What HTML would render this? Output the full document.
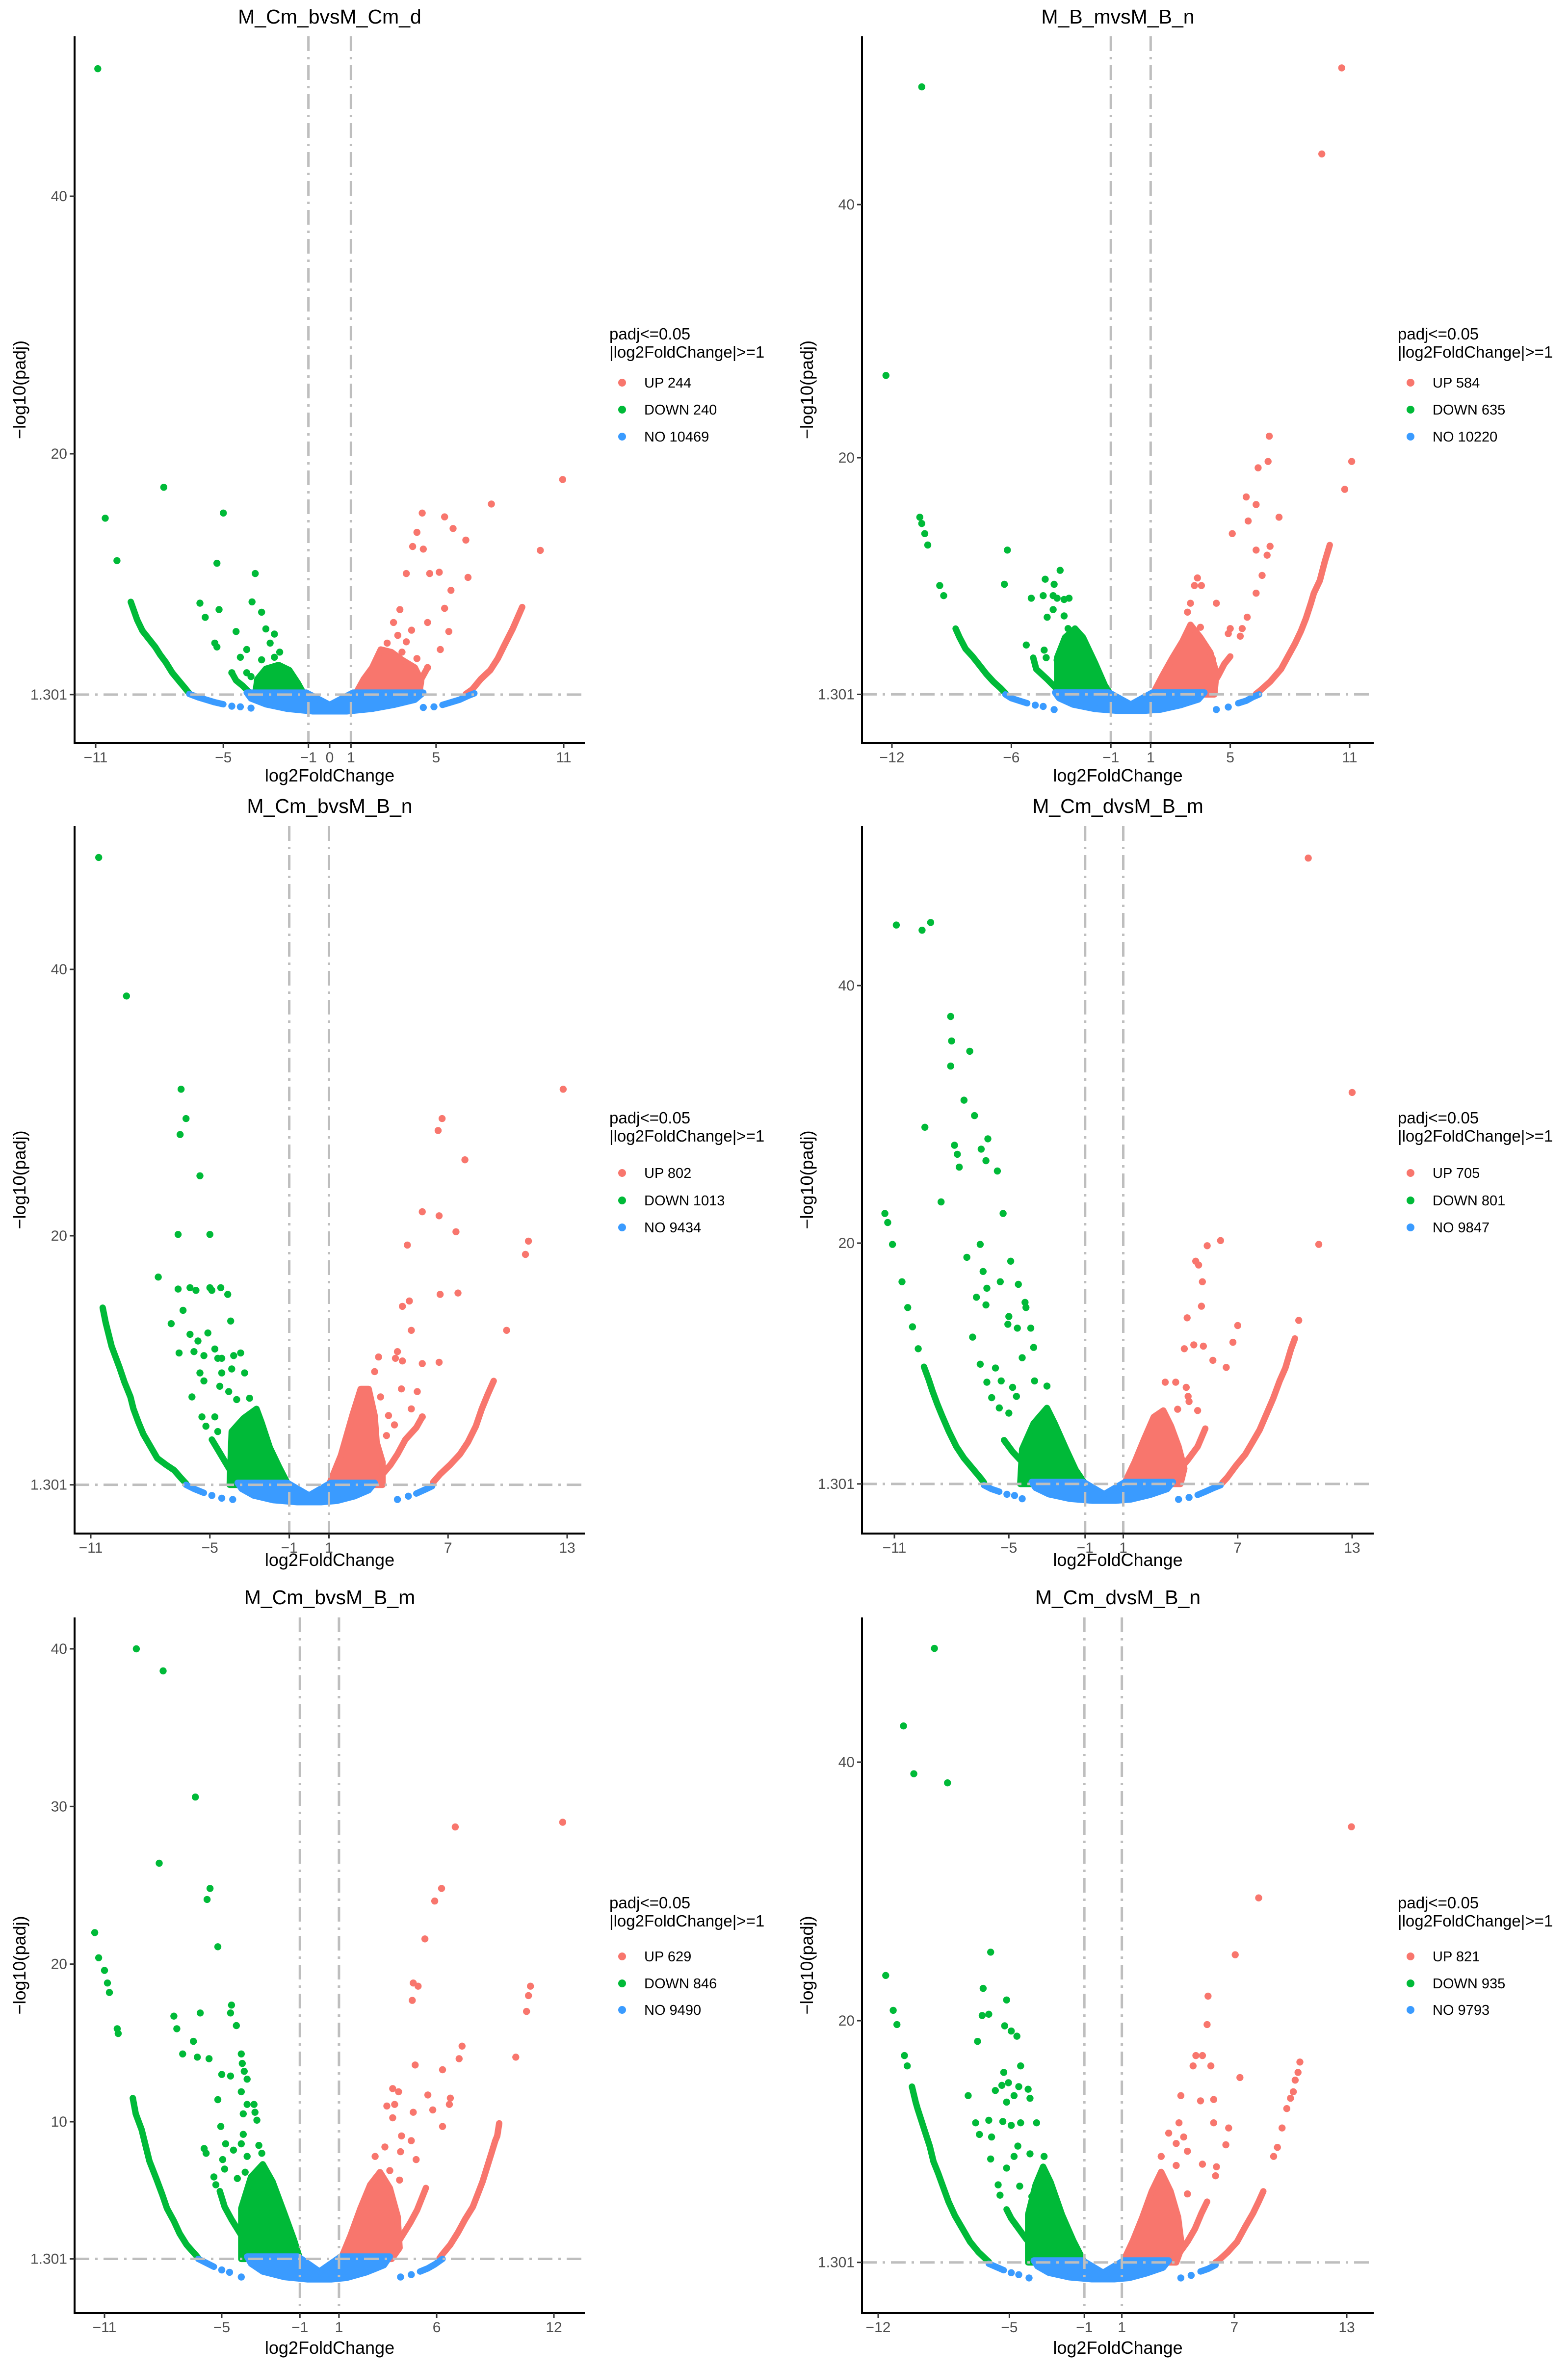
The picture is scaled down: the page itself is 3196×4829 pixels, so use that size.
<!DOCTYPE html>
<html><head><meta charset="utf-8"><title>Volcano plots</title>
<style>
html,body{margin:0;padding:0;background:#fff;}
svg{display:block;}
text{font-family:"Liberation Sans",Arial,sans-serif;}
</style></head>
<body>
<svg id="chart" xmlns="http://www.w3.org/2000/svg" width="3196" height="4829" viewBox="0 0 3196 4829"></svg>
<script>
// ---------- DATA (log2FoldChange, -log10(padj)) ----------
const xTicksA = [-11,-5,-1,0,1,5,11];
const xTicksB = [-12,-6,-1,1,5,11];
const xTicksC = [-11,-5,-1,1,7,13];
const xTicksE = [-11,-5,-1,1,6,12];
const xTicksF = [-12,-5,-1,1,7,13];
const yTicksStd = [1.301,20,40];
const yTicksE = [1.301,10,20,30,40];
const panelTitles = ["M_Cm_bvsM_Cm_d","M_B_mvsM_B_n","M_Cm_bvsM_B_n","M_Cm_dvsM_B_m","M_Cm_bvsM_B_m","M_Cm_dvsM_B_n"];
const upCounts = [244,584,802,705,629,821];
const downCounts = [240,635,1013,801,846,935];
const noCounts = [10469,10220,9434,9847,9490,9793];
const padjCut = 1.301;
const fcCut = [-1,1];

const p1Up = [[10.95,18.0],[7.6,16.1],[9.9,12.5],[4.35,15.4],[5.4,15.1],[5.8,14.2],[6.4,13.3],[4.1,13.9],[3.9,12.8],[4.4,12.6],[3.6,10.7],[4.7,10.7],[5.15,10.8],[6.5,10.4],[5.7,9.4],[5.4,8.0],[5.6,6.2],[5.2,4.8],[4.6,6.9],[3.85,6.3],[3.3,7.9],[3.0,6.9],[3.6,5.4],[4.1,4.1],[4.6,3.4],[2.7,5.3],[3.2,5.9],[3.4,4.6]];
const p1UpArcA = [[9.05,8.1],[8.6,6.4],[8.2,5.1],[7.9,4.1],[7.55,3.2],[7.1,2.5],[6.7,1.7],[6.4,1.35]];
const p1UpArcB = [[4.6,3.4],[4.3,2.5],[4.0,1.8],[3.8,1.4]];
const p1UpCloud = [[1.2,1.3],[1.6,2.5],[2.0,3.4],[2.4,4.8],[2.9,4.6],[3.4,4.0],[4.0,3.4],[4.3,2.4],[4.2,1.3]];
const p1Down = [[-10.9,49.9],[-10.55,15.0],[-10.0,11.7],[-7.8,17.4],[-5.0,15.4],[-5.3,11.5],[-3.5,10.7],[-6.1,8.4],[-5.85,7.3],[-5.2,7.9],[-3.65,8.5],[-3.2,7.7],[-3.0,6.4],[-2.6,6.0],[-4.4,6.2],[-5.4,5.3],[-5.3,5.0],[-3.9,4.8],[-4.2,4.2],[-4.6,3.0],[-3.9,3.0],[-3.7,2.7],[-2.8,5.3],[-2.35,4.6],[-2.6,4.2],[-3.2,4.0]];
const p1DownArcA = [[-9.35,8.5],[-9.05,7.1],[-8.8,6.25],[-8.2,5.0],[-7.97,4.4],[-7.7,3.8],[-7.4,3.0],[-7.15,2.5],[-6.85,1.9],[-6.6,1.4]];
const p1DownArcB = [[-4.6,3.0],[-4.4,2.4],[-4.1,2.0],[-3.8,1.5]];
const p1DownCloud = [[-3.5,1.3],[-3.4,2.5],[-3.0,3.3],[-2.4,3.6],[-1.9,3.2],[-1.5,2.2],[-1.2,1.3]];
const p1NoCloud = [[-3.9,1.45],[-1.1,1.45],[0,0.5],[1.1,1.45],[4.4,1.45],[4.0,0.9],[3,0.5],[2,0.2],[0.8,0],[-0.8,0],[-2,0.2],[-3,0.55],[-3.7,1.0]];
const p1NoArcL = [[-6.6,1.35],[-6.2,1.1],[-5.8,0.9],[-5.4,0.7],[-5.0,0.55]];
const p1NoArcR = [[5.3,0.5],[5.7,0.7],[6.1,0.9],[6.5,1.2],[6.8,1.4]];
const p1No = [[-4.6,0.4],[-4.2,0.35],[-3.7,0.25],[4.4,0.3],[4.9,0.35]];

const p2Up = [[10.6,50.8],[9.6,44.0],[6.96,21.7],[6.9,19.7],[6.4,19.2],[11.1,19.7],[10.75,17.5],[5.8,16.9],[6.3,16.3],[5.9,15.0],[7.45,15.3],[5.1,14.0],[6.3,12.7],[7.0,13.0],[6.85,12.3],[6.6,10.7],[6.3,9.3],[5.85,7.4],[5.6,6.5],[5.5,5.9],[5.0,6.5],[4.9,6.1],[4.3,8.5],[3.35,10.5],[3.55,9.9],[3.2,9.9],[2.85,7.8],[3.0,8.5],[3.5,6.6],[4.1,4.1],[4.0,2.7]];
const p2UpArcA = [[10.0,13.1],[9.75,11.8],[9.5,10.3],[9.2,9.3],[9.05,8.5],[8.8,7.3],[8.55,6.3],[8.25,5.3],[7.9,4.3],[7.55,3.3],[7.0,2.3],[6.5,1.6],[6.3,1.35]];
const p2UpArcB = [[5.0,4.3],[4.7,3.7],[4.4,2.8],[4.1,2.0],[3.8,1.4]];
const p2UpCloud = [[1.1,1.3],[1.6,2.8],[2.1,4.2],[2.6,5.5],[3.0,6.8],[3.5,5.8],[4.0,4.6],[4.3,3],[4.2,1.3]];
const p2Down = [[-10.5,49.3],[-12.3,26.5],[-10.6,15.3],[-10.5,14.8],[-10.35,14.0],[-10.2,13.1],[-9.6,9.9],[-9.4,9.1],[-6.2,12.7],[-6.35,10.0],[-5.0,8.9],[-4.4,9.1],[-4.3,10.4],[-3.85,10.0],[-3.55,11.1],[-3.9,9.1],[-3.7,8.9],[-3.35,8.8],[-3.1,8.9],[-4.2,7.4],[-3.9,8.0],[-3.35,7.5],[-5.25,5.2],[-4.35,4.8],[-4.25,4.2],[-3.7,4.0],[-3.5,4.7],[-3.15,6.5],[-2.85,6.2]];
const p2DownArcA = [[-8.8,6.5],[-8.6,5.8],[-8.3,4.9],[-7.95,4.3],[-7.65,3.7],[-7.25,2.9],[-6.9,2.3],[-6.55,1.8],[-6.3,1.4]];
const p2DownArcB = [[-4.9,4.2],[-4.75,3.3],[-4.2,2.5],[-3.7,1.7],[-3.4,1.35]];
const p2DownCloud = [[-3.7,1.3],[-3.7,4.2],[-3.3,5.8],[-2.8,6.5],[-2.4,5.8],[-1.8,3.8],[-1.3,2.0],[-1.0,1.3]];
const p2NoCloud = [[-3.8,1.45],[-1.1,1.45],[0,0.5],[1.1,1.45],[3.7,1.45],[3.4,0.9],[2.5,0.45],[1.5,0.1],[0.6,0],[-0.6,0],[-1.8,0.15],[-2.9,0.5],[-3.6,1.0]];
const p2NoArcL = [[-6.3,1.3],[-6.0,1.0],[-5.6,0.8],[-5.2,0.6]];
const p2NoArcR = [[5.4,0.6],[5.8,0.8],[6.15,1.1],[6.45,1.3]];
const p2No = [[-4.8,0.45],[-4.4,0.35],[-3.85,0.1],[4.3,0.1],[4.9,0.3]];

const p3Up = [[12.8,31.0],[6.7,28.8],[6.5,27.9],[7.85,25.7],[5.7,21.8],[6.55,21.5],[7.4,20.3],[11.05,19.6],[10.9,18.6],[4.95,19.3],[6.6,15.6],[7.5,15.7],[4.7,14.7],[5.05,15.1],[9.95,12.9],[5.15,12.9],[4.45,11.3],[5.7,10.4],[6.55,10.5],[3.5,10.9],[3.3,9.8],[4.35,10.8],[4.7,10.6],[4.65,8.5],[5.45,8.3],[5.15,7.0],[5.7,6.4],[3.6,7.9],[4.0,6.5],[3.9,5.0],[4.3,5.8]];
const p3UpArcA = [[9.3,9.1],[9.0,8.1],[8.7,7.0],[8.4,5.7],[8.0,4.5],[7.6,3.6],[7.1,2.8],[6.6,2.1],[6.25,1.5]];
const p3UpArcB = [[5.7,6.4],[5.4,5.6],[4.85,4.7],[4.45,3.6],[4.1,2.8],[3.7,2.1],[3.4,1.5]];
const p3UpCloud = [[1.0,1.3],[1.6,3.5],[2.2,6.6],[2.6,8.5],[3.0,8.5],[3.3,6.5],[3.4,4.5],[3.7,3],[3.7,1.3]];
const p3Down = [[-10.6,48.4],[-9.2,38.0],[-6.45,31.0],[-6.2,28.8],[-6.5,27.6],[-5.5,24.5],[-6.6,20.1],[-5.0,20.1],[-7.6,16.9],[-6.6,16.0],[-6.0,16.1],[-5.7,15.9],[-5.0,16.1],[-4.9,15.9],[-4.45,16.1],[-4.1,15.6],[-6.35,14.4],[-6.95,13.4],[-3.95,13.6],[-5.1,12.7],[-6.0,12.6],[-5.6,12.1],[-4.75,11.5],[-6.55,11.2],[-5.8,11.3],[-5.3,11.0],[-4.6,10.8],[-4.4,10.8],[-3.8,11.0],[-3.45,11.2],[-3.9,10.0],[-5.5,9.7],[-4.4,9.7],[-3.25,9.7],[-5.3,9.1],[-4.5,8.7],[-4.05,8.3],[-5.9,7.9],[-3.65,7.7],[-3.0,7.8],[-5.4,6.4],[-4.75,6.4],[-5.2,5.7],[-4.6,5.3]];
const p3DownArcA = [[-10.4,14.6],[-10.25,13.5],[-9.95,11.7],[-9.55,10.1],[-9.3,9.0],[-9.0,7.9],[-8.85,7.0],[-8.6,6.0],[-8.35,5.1],[-8.0,4.2],[-7.65,3.3],[-7.2,2.8],[-6.8,2.4],[-6.45,1.8],[-6.2,1.4]];
const p3DownArcB = [[-4.9,4.7],[-4.5,3.7],[-4.2,2.95],[-3.9,2.2],[-3.6,1.5]];
const p3DownCloud = [[-4.0,1.3],[-3.9,5.3],[-3.3,6.3],[-2.65,7.0],[-2.4,6.0],[-1.98,4.1],[-1.5,2.6],[-1.05,1.3]];
const p3NoCloud = [[-3.6,1.45],[-1.1,1.45],[0,0.5],[1.1,1.45],[3.3,1.45],[3.0,0.9],[2.3,0.45],[1.4,0.1],[0.6,0],[-0.6,0],[-1.8,0.15],[-2.8,0.5],[-3.4,1.0]];
const p3NoArcL = [[-6.2,1.3],[-5.8,1.0],[-5.3,0.7]];
const p3NoArcR = [[5.4,0.65],[5.85,0.95],[6.2,1.2]];
const p3No = [[-4.9,0.5],[-4.4,0.3],[-3.85,0.2],[4.45,0.2],[5.0,0.45]];

const p4Up = [[10.7,49.9],[13.0,31.7],[11.25,19.9],[6.1,20.2],[5.4,19.8],[4.8,18.6],[4.95,18.3],[5.15,17.0],[5.1,15.1],[4.35,14.2],[7.0,13.6],[10.2,14.0],[6.75,12.3],[4.7,12.1],[5.2,12.0],[4.2,11.8],[5.7,10.9],[6.4,10.35],[3.2,9.2],[3.75,9.2],[4.3,8.8],[4.4,8.1],[3.85,7.1],[4.45,7.7],[4.9,7.0]];
const p4UpArcA = [[10.0,12.6],[9.8,11.8],[9.5,10.3],[9.2,9.3],[8.85,7.9],[8.5,6.7],[8.15,5.5],[7.8,4.6],[7.4,3.6],[6.9,2.7],[6.45,1.8],[6.2,1.4]];
const p4UpArcB = [[5.3,5.6],[4.9,4.2],[4.4,3.2],[4.0,2.5],[3.6,1.5]];
const p4UpCloud = [[1.05,1.3],[1.6,3.0],[2.1,4.8],[2.6,6.5],[3.1,7.0],[3.5,5.8],[3.9,4.2],[4.2,2.5],[4.0,1.3]];
const p4Down = [[-10.9,44.7],[-9.55,44.3],[-9.1,44.9],[-8.05,37.6],[-8.0,35.7],[-7.05,34.9],[-8.05,33.75],[-7.35,31.1],[-6.8,29.9],[-9.4,29.0],[-7.85,27.6],[-7.7,26.9],[-7.6,25.9],[-6.45,27.3],[-6.1,28.1],[-6.2,26.4],[-5.6,25.6],[-8.55,23.2],[-5.3,22.3],[-6.5,19.9],[-7.2,18.9],[-4.9,18.6],[-6.35,17.8],[-5.45,17.0],[-4.5,16.8],[-6.15,16.5],[-6.7,15.8],[-6.2,15.2],[-4.15,15.4],[-4.1,15.0],[-5.0,14.3],[-5.05,13.7],[-4.55,13.4],[-3.85,13.4],[-6.9,12.7],[-3.7,11.9],[-4.3,11.1],[-6.5,10.6],[-5.7,10.3],[-6.15,9.2],[-5.4,9.3],[-4.8,8.8],[-3.65,9.3],[-5.9,8.0],[-4.6,8.1],[-3.0,8.9],[-5.5,7.2],[-5.0,6.8],[-11.5,22.3],[-11.35,21.6],[-11.1,19.9],[-10.6,17.0],[-10.3,15.0],[-10.05,13.5],[-9.75,11.8]];
const p4DownArcA = [[-9.45,10.4],[-9.2,9.4],[-9.0,8.5],[-8.75,7.5],[-8.5,6.6],[-8.15,5.4],[-7.75,4.2],[-7.35,3.3],[-6.9,2.5],[-6.45,1.7],[-6.3,1.4]];
const p4DownArcB = [[-5.25,4.7],[-4.8,3.8],[-4.3,3.0],[-3.8,2.3],[-3.5,1.5]];
const p4DownCloud = [[-4.4,1.3],[-4.3,4.0],[-3.7,6.0],[-3.0,7.2],[-2.6,6.0],[-2.0,4.0],[-1.5,2.4],[-1.0,1.3]];
const p4NoCloud = [[-3.8,1.45],[-1.1,1.45],[0,0.5],[1.1,1.45],[3.6,1.45],[3.3,0.9],[2.4,0.45],[1.4,0.1],[0.6,0],[-0.6,0],[-1.8,0.15],[-2.9,0.5],[-3.6,1.0]];
const p4NoArcL = [[-6.3,1.2],[-5.9,0.9],[-5.5,0.7]];
const p4NoArcR = [[4.9,0.45],[5.3,0.7],[5.75,1.0],[6.1,1.2]];
const p4No = [[-5.1,0.5],[-4.7,0.4],[-4.3,0.15],[3.9,0.1],[4.45,0.25]];

const p5Up = [[12.45,29.0],[6.95,28.7],[6.25,24.8],[5.9,24.0],[5.4,21.6],[4.8,18.8],[5.05,18.6],[4.75,17.7],[10.8,18.6],[10.7,18.0],[10.6,17.0],[10.05,14.1],[7.3,14.8],[7.15,14.0],[4.9,13.6],[6.3,13.3],[3.75,12.1],[4.05,11.9],[5.55,11.7],[6.7,11.5],[6.65,11.1],[3.45,11.0],[3.85,11.1],[5.8,10.75],[4.8,10.6],[3.75,10.25],[6.3,9.7],[4.2,9.1],[4.7,8.8],[3.35,8.4],[4.15,8.1],[2.85,7.8],[4.95,7.6],[3.6,6.9],[4.1,6.3]];
const p5UpArcA = [[9.2,9.9],[9.1,9.1],[9.0,8.8],[8.8,8.0],[8.7,7.6],[8.35,6.2],[8.1,5.4],[7.85,4.6],[7.45,3.8],[7.1,3.0],[6.7,2.2],[6.3,1.6],[6.15,1.35]];
const p5UpArcB = [[5.45,5.8],[5.0,4.4],[4.65,3.6],[4.25,2.8],[3.85,2.0],[3.5,1.4]];
const p5UpCloud = [[1.1,1.3],[1.6,2.8],[2.1,4.5],[2.6,6.0],[3.1,6.8],[3.6,5.8],[4.0,4.0],[4.1,2.0],[3.7,1.3]];
const p5Down = [[-9.37,40.0],[-8.0,38.6],[-6.35,30.6],[-8.2,26.4],[-5.6,24.8],[-5.75,24.1],[-5.2,21.1],[-11.5,22.0],[-11.3,20.4],[-11.0,19.6],[-10.85,18.8],[-10.75,18.2],[-10.35,15.9],[-10.3,15.6],[-4.5,17.4],[-4.55,16.9],[-4.25,16.1],[-7.45,16.7],[-7.3,15.9],[-6.1,16.9],[-6.45,15.1],[-7.0,14.3],[-6.25,14.1],[-5.65,14.0],[-5.0,13.0],[-4.55,12.9],[-4.0,14.3],[-3.95,13.7],[-3.85,13.2],[-3.7,12.7],[-4.0,11.9],[-5.2,11.4],[-3.7,11.1],[-3.35,11.1],[-3.9,10.5],[-3.3,10.6],[-3.2,10.1],[-5.05,9.7],[-3.9,9.2],[-4.0,8.6],[-4.8,8.6],[-4.4,8.2],[-3.7,7.8],[-3.1,8.5],[-2.95,8.0],[-5.9,8.3],[-5.8,8.0],[-4.95,7.6],[-4.85,7.0],[-3.8,6.8],[-5.4,6.5],[-5.3,6.0],[-4.2,6.4]];
const p5DownArcA = [[-9.55,11.5],[-9.4,10.5],[-9.1,9.5],[-8.9,8.5],[-8.7,7.5],[-8.35,6.4],[-8.05,5.4],[-7.8,4.5],[-7.45,3.7],[-7.15,2.9],[-6.8,2.2],[-6.3,1.5],[-6.2,1.35]];
const p5DownArcB = [[-5.1,5.6],[-4.85,4.6],[-4.5,3.8],[-4.05,2.9],[-3.6,2.2],[-3.3,1.5]];
const p5DownCloud = [[-4.0,1.3],[-4.0,4.5],[-3.5,6.5],[-2.9,7.3],[-2.4,6.2],[-1.8,4.2],[-1.3,2.5],[-1.0,1.3]];
const p5NoCloud = [[-3.7,1.45],[-1.1,1.45],[0,0.5],[1.1,1.45],[3.6,1.45],[3.3,0.9],[2.4,0.45],[1.4,0.1],[0.6,0],[-0.6,0],[-1.8,0.15],[-2.9,0.5],[-3.5,1.0]];
const p5NoArcL = [[-6.2,1.3],[-5.8,1.05],[-5.4,0.8]];
const p5NoArcR = [[5.15,0.5],[5.55,0.7],[5.9,0.95],[6.3,1.3]];
const p5No = [[-5.0,0.6],[-4.6,0.45],[-4.0,0.15],[4.15,0.15],[4.7,0.3]];

const p6Up = [[13.25,35.0],[8.3,29.5],[7.05,25.1],[5.6,21.9],[5.55,19.7],[4.95,17.3],[5.3,17.3],[4.8,16.5],[5.75,16.5],[7.3,15.6],[4.15,14.2],[5.2,13.8],[5.9,13.9],[5.9,12.1],[6.7,11.7],[6.55,10.4],[6.05,8.7],[6.0,8.0],[5.3,8.9],[4.05,12.1],[3.5,11.3],[3.9,10.5],[4.3,11.0],[3.1,9.5],[3.9,8.8],[4.5,9.9],[4.5,6.6],[10.5,16.8],[10.4,16.0],[10.25,15.4],[10.15,14.5],[10.0,14.0],[9.8,13.2],[9.55,11.7],[9.3,10.2],[9.1,9.5]];
const p6UpArcA = [[8.55,6.8],[8.3,6.0],[8.0,5.1],[7.6,4.1],[7.15,2.9],[6.65,2.1],[6.2,1.5],[6.0,1.3]];
const p6UpArcB = [[5.55,6.0],[5.25,5.1],[4.9,3.9],[4.5,2.9],[4.1,2.1],[3.7,1.4]];
const p6UpCloud = [[1.05,1.3],[1.6,3.0],[2.1,4.8],[2.6,6.8],[3.1,8.3],[3.6,6.8],[4.0,4.8],[4.2,2.5],[3.9,1.3]];
const p6Down = [[-9.0,48.8],[-10.65,42.8],[-10.1,39.1],[-8.3,38.4],[-11.6,23.5],[-11.2,20.8],[-11.0,19.7],[-10.6,17.3],[-10.45,16.5],[-6.0,25.3],[-6.4,22.5],[-6.45,20.4],[-6.1,20.5],[-5.15,21.6],[-5.25,19.6],[-4.9,19.2],[-4.6,18.8],[-6.7,18.4],[-4.4,16.5],[-5.3,16.0],[-7.2,14.2],[-5.75,14.6],[-5.4,15.0],[-5.05,15.2],[-4.5,14.9],[-4.0,14.7],[-3.9,14.0],[-4.75,14.2],[-5.15,13.7],[-6.8,12.1],[-6.6,11.2],[-6.1,12.3],[-5.35,12.2],[-4.9,11.9],[-4.4,12.1],[-3.55,12.1],[-5.95,11.0],[-4.55,10.3],[-6.0,9.3],[-4.75,9.5],[-3.9,9.7],[-3.15,9.5],[-5.15,8.6],[-5.6,7.3],[-4.45,7.2],[-5.5,6.5],[-3.8,6.4]];
const p6DownArcA = [[-10.2,14.9],[-10.0,13.7],[-9.9,13.2],[-9.5,11.4],[-9.25,10.3],[-9.05,9.1],[-8.8,8.2],[-8.5,7.0],[-8.25,6.0],[-7.9,4.9],[-7.5,3.9],[-7.1,2.9],[-6.65,2.1],[-6.25,1.55],[-6.1,1.35]];
const p6DownArcB = [[-5.15,5.4],[-4.9,4.7],[-4.5,3.9],[-4.1,3.1],[-3.6,2.3],[-3.3,1.5]];
const p6DownCloud = [[-4.0,1.3],[-4.0,5],[-3.6,7.3],[-3.2,8.7],[-2.8,7.5],[-2.2,5],[-1.6,3],[-1.0,1.3]];
const p6NoCloud = [[-3.7,1.45],[-1.1,1.45],[0,0.5],[1.1,1.45],[3.5,1.45],[3.2,0.9],[2.3,0.45],[1.4,0.1],[0.6,0],[-0.6,0],[-1.8,0.15],[-2.9,0.5],[-3.5,1.0]];
const p6NoArcL = [[-6.1,1.2],[-5.7,0.95],[-5.3,0.7]];
const p6NoArcR = [[5.2,0.6],[5.6,0.8],[6.0,1.1]];
const p6No = [[-4.9,0.5],[-4.5,0.35],[-3.95,0.1],[4.15,0.1],[4.7,0.3]];

// ---------- LAYOUT (pixel geometry only) ----------
const COL_UP = "#F8766D", COL_DOWN = "#00BA38", COL_NO = "#3A9BFF";
const panels = [
 {L:152,B:1515,T:74,R:1192, xa:[-11,195,11,1149], ya:[40,400,20,925], titleY:48, xTitleY:1593, legX:1242, legT:[692,729], legI:[780,835,890], xTicks:xTicksA, yTicks:yTicksStd,
  up:p1Up, upArcs:[p1UpArcA,p1UpArcB], upCloud:p1UpCloud, down:p1Down, downArcs:[p1DownArcA,p1DownArcB], downCloud:p1DownCloud, noCloud:p1NoCloud, noArcs:[p1NoArcL,p1NoArcR], no:p1No},
 {L:1757,B:1515,T:74,R:2800, xa:[-12,1818,11,2751], ya:[40,417,20,933], titleY:48, xTitleY:1593, legX:2849, legT:[692,729], legI:[780,835,890], xTicks:xTicksB, yTicks:yTicksStd,
  up:p2Up, upArcs:[p2UpArcA,p2UpArcB], upCloud:p2UpCloud, down:p2Down, downArcs:[p2DownArcA,p2DownArcB], downCloud:p2DownCloud, noCloud:p2NoCloud, noArcs:[p2NoArcL,p2NoArcR], no:p2No},
 {L:152,B:3126,T:1684,R:1192, xa:[-11,185,13,1156], ya:[40,1976,20,2519], titleY:1657, xTitleY:3192, legX:1242, legT:[2290,2327], legI:[2391,2447,2502], xTicks:xTicksC, yTicks:yTicksStd,
  up:p3Up, upArcs:[p3UpArcA,p3UpArcB], upCloud:p3UpCloud, down:p3Down, downArcs:[p3DownArcA,p3DownArcB], downCloud:p3DownCloud, noCloud:p3NoCloud, noArcs:[p3NoArcL,p3NoArcR], no:p3No},
 {L:1757,B:3126,T:1684,R:2800, xa:[-11,1823,13,2756], ya:[40,2009,20,2534], titleY:1657, xTitleY:3192, legX:2849, legT:[2290,2327], legI:[2391,2447,2502], xTicks:xTicksC, yTicks:yTicksStd,
  up:p4Up, upArcs:[p4UpArcA,p4UpArcB], upCloud:p4UpCloud, down:p4Down, downArcs:[p4DownArcA,p4DownArcB], downCloud:p4DownCloud, noCloud:p4NoCloud, noArcs:[p4NoArcL,p4NoArcR], no:p4No},
 {L:152,B:4715,T:3297,R:1192, xa:[-11,213,12,1129], ya:[40,3361,10,4325], titleY:3270, xTitleY:4798, legX:1242, legT:[3890,3927], legI:[3988,4043,4097], xTicks:xTicksE, yTicks:yTicksE,
  up:p5Up, upArcs:[p5UpArcA,p5UpArcB], upCloud:p5UpCloud, down:p5Down, downArcs:[p5DownArcA,p5DownArcB], downCloud:p5DownCloud, noCloud:p5NoCloud, noArcs:[p5NoArcL,p5NoArcR], no:p5No},
 {L:1757,B:4715,T:3297,R:2800, xa:[-12,1790,13,2745], ya:[40,3592,20,4119], titleY:3270, xTitleY:4798, legX:2849, legT:[3890,3927], legI:[3988,4043,4097], xTicks:xTicksF, yTicks:yTicksStd,
  up:p6Up, upArcs:[p6UpArcA,p6UpArcB], upCloud:p6UpCloud, down:p6Down, downArcs:[p6DownArcA,p6DownArcB], downCloud:p6DownCloud, noCloud:p6NoCloud, noArcs:[p6NoArcL,p6NoArcR], no:p6No}
];

const NS = "http://www.w3.org/2000/svg";
const svg = document.getElementById("chart");
function mk(tag, attrs, parent){
  const e = document.createElementNS(NS, tag);
  for (const k in attrs) e.setAttribute(k, attrs[k]);
  (parent||svg).appendChild(e);
  return e;
}
const R = 7.2, W = 13;

panels.forEach((p, i) => {
  const g = mk("g", {});
  
  
  const sx = v => p.xa[1] + (v - p.xa[0]) * (p.xa[3] - p.xa[1]) / (p.xa[2] - p.xa[0]);
  const sy = v => p.ya[1] + (v - p.ya[0]) * (p.ya[3] - p.ya[1]) / (p.ya[2] - p.ya[0]);
  const pts = arr => arr.map(d => sx(d[0]).toFixed(1) + "," + sy(d[1]).toFixed(1)).join(" ");

  function cloud(arr, col, name){
    const e = mk("polygon", {points: pts(arr), fill: col, stroke: col, "stroke-width": W, "stroke-linejoin": "round"}, g);
    
    
  }
  function arc(arr, col, name){
    const e = mk("polyline", {points: pts(arr), fill: "none", stroke: col, "stroke-width": W, "stroke-linejoin": "round", "stroke-linecap": "round"}, g);
    
    
  }
  function dots(arr, col, name){
    arr.forEach(d => {
      const c = mk("circle", {cx: sx(d[0]).toFixed(1), cy: sy(d[1]).toFixed(1), r: R, fill: col}, g);
      
      
    });
  }
  cloud(p.downCloud, COL_DOWN, 'down-gene-cluster');
  cloud(p.upCloud, COL_UP, 'up-gene-cluster');
  p.downArcs.forEach(a => arc(a, COL_DOWN, 'down-gene-band'));
  p.upArcs.forEach(a => arc(a, COL_UP, 'up-gene-band'));
  dots(p.down, COL_DOWN, 'down-gene-point');
  dots(p.up, COL_UP, 'up-gene-point');
  cloud(p.noCloud, COL_NO, 'no-change-gene-cluster');
  p.noArcs.forEach(a => arc(a, COL_NO, 'no-change-gene-band'));
  dots(p.no, COL_NO, 'no-change-gene-point');

  const dash = "30 12 5 12";
  fcCut.forEach(v => {
    const l = mk("line", {x1: sx(v), x2: sx(v), y1: p.T, y2: p.B, stroke: "#BEBEBE", "stroke-width": 5, "stroke-dasharray": dash}, g);
    
    
  });
  const hl = mk("line", {x1: p.L, x2: p.R, y1: sy(padjCut), y2: sy(padjCut), stroke: "#BEBEBE", "stroke-width": 5, "stroke-dasharray": dash}, g);
  
  

  const ya = mk("line", {x1: p.L, x2: p.L, y1: p.T, y2: p.B + 2, stroke: "#000", "stroke-width": 4}, g);
  
  
  const xa = mk("line", {x1: p.L - 2, x2: p.R, y1: p.B, y2: p.B, stroke: "#000", "stroke-width": 4}, g);
  
  

  p.xTicks.forEach(v => {
    const t = mk("line", {x1: sx(v), x2: sx(v), y1: p.B, y2: p.B + 10, stroke: "#333", "stroke-width": 3}, g);
    
    
    const tx = mk("text", {x: sx(v), y: p.B + 39, "text-anchor": "middle", "font-size": 30, fill: "#4D4D4D"}, g);
    tx.textContent = (v < 0 ? "\u2212" + Math.abs(v) : String(v));
    
    
  });
  p.yTicks.forEach(v => {
    const t = mk("line", {x1: p.L - 10, x2: p.L, y1: sy(v), y2: sy(v), stroke: "#333", "stroke-width": 3}, g);
    
    
    const tx = mk("text", {x: p.L - 15, y: sy(v) + 10, "text-anchor": "end", "font-size": 30, fill: "#4D4D4D"}, g);
    tx.textContent = String(v);
    
    
  });

  const cx = (p.L + p.R) / 2;
  const tt = mk("text", {x: cx, y: p.titleY, "text-anchor": "middle", "font-size": 41, fill: "#000"}, g);
  tt.textContent = panelTitles[i];
  
  
  const xt = mk("text", {x: cx, y: p.xTitleY, "text-anchor": "middle", "font-size": 36, fill: "#000"}, g);
  xt.textContent = "log2FoldChange";
  
  
  const ymid = (p.T + p.B) / 2;
  const yt = mk("text", {x: p.L - 100, y: ymid, "text-anchor": "middle", "font-size": 36, fill: "#000", transform: "rotate(-90 " + (p.L - 100) + " " + ymid + ")"}, g);
  yt.textContent = "\u2212log10(padj)";
  
  

  const lt1 = mk("text", {x: p.legX, y: p.legT[0], "font-size": 33, fill: "#000"}, g);
  lt1.textContent = "padj<=0.05";
  
  
  const lt2 = mk("text", {x: p.legX, y: p.legT[1], "font-size": 33, fill: "#000"}, g);
  lt2.textContent = "|log2FoldChange|>=1";
  
  
  const labels = ["UP " + upCounts[i], "DOWN " + downCounts[i], "NO " + noCounts[i]];
  const cols = [COL_UP, COL_DOWN, COL_NO];
  labels.forEach((lab, k) => {
    const c = mk("circle", {cx: p.legX + 26, cy: p.legI[k], r: 8, fill: cols[k]}, g);
    
    
    const t = mk("text", {x: p.legX + 71, y: p.legI[k] + 10, "font-size": 29, fill: "#000"}, g);
    t.textContent = lab;
    
    
  });
});
</script>
</body></html>
